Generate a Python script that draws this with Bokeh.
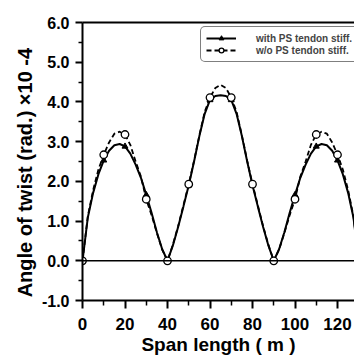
from bokeh.plotting import figure
from bokeh.models import (Range1d, LinearAxis, FixedTicker, PrintfTickFormatter, Span,
                          Legend, LegendItem, ColumnDataSource, CDSView, IndexFilter)
from bokeh.embed import file_html
from bokeh.resources import INLINE

# ---- data ----
span_length = [0, 2.5, 5, 7.5, 10, 12.5, 15, 17.5, 20, 22.5, 25, 27.5, 30, 32.5, 35, 37.5,
               40, 42.5, 45, 47.5, 50, 52.5, 55, 57.5, 60, 62.5, 65, 67.5, 70, 72.5, 75, 77.5,
               80, 82.5, 85, 87.5, 90, 92.5, 95, 97.5, 100, 102.5, 105, 107.5, 110, 112.5,
               115, 117.5, 120, 122.5, 125, 127.5, 130]

with_ps = [0, 1.09, 1.71, 2.18, 2.53, 2.77, 2.91, 2.94, 2.88, 2.70, 2.42, 2.09, 1.66, 1.21, 0.72, 0.29,
           0, 0.38, 0.85, 1.37, 1.90, 2.50, 3.14, 3.70, 4.05, 4.15, 4.17, 4.15, 4.05, 3.70, 3.14, 2.50,
           1.90, 1.37, 0.85, 0.38, 0, 0.29, 0.72, 1.21, 1.66, 2.09, 2.42, 2.70, 2.88, 2.94,
           2.91, 2.77, 2.53, 2.18, 1.71, 1.09, 0]

without_ps = [0, 1.12, 1.78, 2.30, 2.67, 2.98, 3.20, 3.25, 3.18, 2.92, 2.50, 2.12, 1.55, 1.15, 0.70, 0.28,
              0, 0.40, 0.87, 1.40, 1.93, 2.52, 3.16, 3.75, 4.11, 4.35, 4.43, 4.35, 4.11, 3.75, 3.16, 2.52,
              1.93, 1.40, 0.87, 0.40, 0, 0.28, 0.70, 1.15, 1.55, 2.12, 2.50, 2.92, 3.18, 3.25,
              3.20, 2.98, 2.67, 2.30, 1.78, 1.12, 0]

x_ticks = [0, 20, 40, 60, 80, 100, 120]
x_minor = [10, 30, 50, 70, 90, 110]
y_ticks = [-1, 0, 1, 2, 3, 4, 5, 6]
y_minor = [-0.5, 0.5, 1.5, 2.5, 3.5, 4.5, 5.5]

label_with = "with PS tendon stiff."
label_without = "w/o PS tendon stiff."
x_title = "Span length ( m )"
y_title = "Angle of twist (rad.)    \u00d710  -4"

FONT = "Liberation Sans"

src = ColumnDataSource(dict(x=span_length, w=with_ps, wo=without_ps))
marker_view = CDSView(filter=IndexFilter(list(range(0, len(span_length), 4))))

p = figure(width=354, height=357, x_range=Range1d(0, 128), y_range=Range1d(-1, 6),
           output_backend="svg", toolbar_location=None,
           min_border_left=82, min_border_right=0, min_border_top=22, min_border_bottom=55,
           background_fill_color="white", border_fill_color="white", outline_line_color=None)
p.grid.visible = False

# zero line
p.add_layout(Span(location=0, dimension="width", line_color="black", line_width=1.6))

l_wo = p.line("x", "wo", source=src, line_color="black", line_width=1.8, line_dash="5 3")
l_w = p.line("x", "w", source=src, line_color="black", line_width=2)
s_w = p.scatter("x", "w", source=src, view=marker_view, marker="triangle", size=6,
                fill_color="black", line_color="black")
s_wo = p.scatter("x", "wo", source=src, view=marker_view, marker="circle", size=7.5,
                 fill_color="white", line_color="black", line_width=1.3)

# axes
for ax in (p.xaxis[0], p.yaxis[0]):
    ax.axis_line_width = 2
    ax.major_tick_line_width = 2
    ax.minor_tick_line_width = 1.5
    ax.major_tick_in = 0
    ax.minor_tick_in = 0
    ax.major_label_text_font = FONT
    ax.major_label_text_font_style = "bold"
    ax.axis_label_text_font = FONT
    ax.axis_label_text_font_style = "bold"
    ax.axis_label_text_color = "black"
    ax.major_label_text_color = "black"

p.xaxis.ticker = FixedTicker(ticks=x_ticks, minor_ticks=x_minor)
p.xaxis.major_tick_out = 8
p.xaxis.minor_tick_out = 5
p.xaxis.major_label_standoff = 9
p.xaxis.major_label_text_font_size = "17px"
p.xaxis.axis_label = x_title
p.xaxis.axis_label_text_font_size = "19px"
p.xaxis.axis_label_standoff = 1

p.yaxis.ticker = FixedTicker(ticks=y_ticks, minor_ticks=y_minor)
p.yaxis.formatter = PrintfTickFormatter(format="%.1f")
p.yaxis.major_tick_out = 7
p.yaxis.minor_tick_out = 4
p.yaxis.major_label_standoff = 6
p.yaxis.major_label_text_font_size = "16px"
p.yaxis.axis_label = y_title
p.yaxis.axis_label_text_font_size = "20px"
p.yaxis.axis_label_standoff = 3

top = LinearAxis(ticker=FixedTicker(ticks=[]), axis_line_width=2,
                 major_tick_out=0, minor_tick_out=0, major_label_text_font_size="0px")
p.add_layout(top, "above")

legend = Legend(items=[LegendItem(label=label_with, renderers=[l_w, s_w]),
                       LegendItem(label=label_without, renderers=[l_wo, s_wo])],
                location=(118, 238), padding=5, spacing=0, margin=0,
                glyph_width=30, glyph_height=12, label_height=12, label_standoff=20,
                label_text_font=FONT, label_text_font_style="bold", label_text_font_size="10px",
                border_line_color="black", border_line_width=1.5,
                background_fill_color="white", background_fill_alpha=1)
try:
    legend.border_radius = 5
except Exception:
    pass
p.add_layout(legend, "center")

open("out.html", "w").write(file_html(p, INLINE))
